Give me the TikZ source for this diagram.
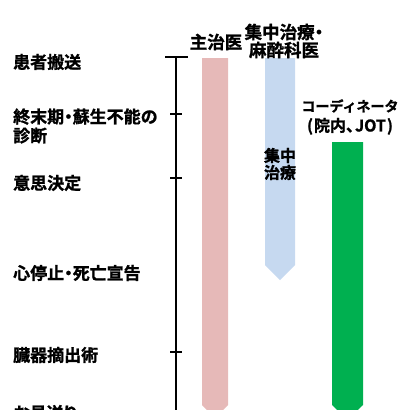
\documentclass[tikz,border=0pt]{standalone}
\usepackage{fontspec}
\setmainfont{Noto Sans CJK JP}[RawFeature=+palt, BoldFont={Noto Sans CJK JP Bold}, BoldFeatures={FakeBold=1.2}]
\newfontfamily\fullwidthjp{Noto Sans CJK JP}[BoldFont={Noto Sans CJK JP Bold}, BoldFeatures={FakeBold=1.2}]
\definecolor{barpink}{RGB}{230,185,184}
\definecolor{barblue}{RGB}{198,217,240}
\definecolor{bargreen}{RGB}{0,176,80}
\begin{document}
\begin{tikzpicture}[x=1pt, y=-1pt]
	\tikzstyle{stage} = [anchor=west, inner sep=0pt, align=left, font=\bfseries\fontsize{17}{19}\selectfont]
	\tikzstyle{role}  = [inner sep=0pt, align=center, font=\bfseries\fontsize{17.5}{18}\selectfont]
	\tikzstyle{tick}  = [line width=1.2pt, black]

	\useasboundingbox (0, 0) rectangle (398, 410);
	\clip (0, 0) rectangle (398, 410);

	% stages along the time axis
	\foreach \name/\y/\text in {transport/62/患者搬送, diagnosis/126/{終末期・蘇生不能の\\診断}, decision/183/意思決定, death/273/心停止・死亡宣告, removal/355/臓器摘出術, farewell/413/お見送り}
		\node[stage] (\name) at (13, \y) {\text};

	\coordinate (axtop) at (176, 57);
	\coordinate (axbot) at (176, 420);
	\draw[tick] (axtop) -- (axbot);
	\draw[tick] (165, 57) -- (188, 57);
	\foreach \y in {114, 178, 352}
		\draw[tick] (170, \y) -- (182, \y);

	% bars
	\fill[barpink]  (202, 58)  -- (228, 58)  -- (228, 405) -- (215, 418) -- (202, 405) -- cycle;
	\fill[barblue]  (265, 58)  -- (295, 58)  -- (295, 265) -- (280, 280) -- (265, 265) -- cycle;
	\fill[bargreen] (332, 142) -- (363, 142) -- (363, 405) -- (347.5, 420) -- (332, 405) -- cycle;

	% roles
	\node[role] (doctor) at (216, 42) {主治医};
	\node[role] (icu) at (284, 41) {集中治療・\\麻酔科医};
	\node[role, font=\bfseries\fontsize{14}{20}\selectfont] (coord) at (350, 117) {{\fullwidthjp コーディネータ}\\{\fontsize{16}{20}\selectfont(\kern1pt 院内、\kern1pt JOT\kern1pt)}};
	\node[role, font=\bfseries\fontsize{16}{17}\selectfont] (icucare) at (280, 164) {集中\\治療};
\end{tikzpicture}
\end{document}
